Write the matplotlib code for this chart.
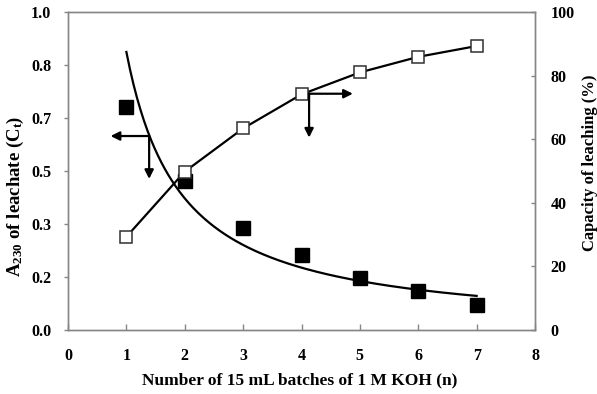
import numpy as np
import matplotlib
matplotlib.use("Agg")
import matplotlib.pyplot as plt

plt.rcParams["font.family"] = ["Liberation Serif", "DejaVu Serif"]
plt.rcParams["font.weight"] = "bold"
plt.rcParams["mathtext.fontset"] = "custom"
plt.rcParams["mathtext.rm"] = "Liberation Serif:bold"
plt.rcParams["mathtext.it"] = "Liberation Serif:bold"
plt.rcParams["mathtext.bf"] = "Liberation Serif:bold"
plt.rcParams["mathtext.default"] = "rm"

# Batch number
batches = [1, 2, 3, 4, 5, 6, 7]
# Absorbance at 230 nm of each leachate batch
absorbance = [0.701, 0.470, 0.320, 0.236, 0.163, 0.124, 0.079]
# Cumulative leaching capacity (%)
capacity = [29.3, 49.8, 63.4, 74.1, 81.0, 85.9, 89.3]

# Left axis ticks at sixths of the range, shown with one decimal
left_ticks = [0, 1 / 6, 2 / 6, 3 / 6, 4 / 6, 5 / 6, 1.0]
left_tick_labels = ["0.0", "0.2", "0.3", "0.5", "0.7", "0.8", "1.0"]
right_ticks = [0, 20, 40, 60, 80, 100]
x_ticks = [0, 1, 2, 3, 4, 5, 6, 7, 8]

W, H = 597, 394
fig = plt.figure(figsize=(W / 100, H / 100), dpi=100)
ax = fig.add_axes([68 / W, 1 - 330 / H, (535 - 68) / W, (330 - 12) / H])
ax2 = ax.twinx()

spine_color = "#868686"
for a in (ax, ax2):
    for s in a.spines.values():
        s.set_color(spine_color)
        s.set_linewidth(1.0)

# Power-law trendline fitted in log-log space
b, ln_a = np.polyfit(np.log(batches), np.log(absorbance), 1)
xs = np.linspace(min(batches), max(batches), 200)
ax.plot(xs, np.exp(ln_a) * xs ** b, color="black", lw=1.6, zorder=2)
ax.plot(batches, absorbance, ls="none", marker="s", ms=9.5,
        mfc="black", mec="black", zorder=3)

ax2.plot(batches, capacity, color="black", lw=1.6, marker="s", ms=8.5,
         mfc="white", mec="#303030", mew=1.1, zorder=3)

arrow_kw = dict(arrowstyle="-|>", lw=1.6, color="black",
                mutation_scale=13, shrinkA=0, shrinkB=0)
# Arrows pointing to the axis each series belongs to
ax.annotate("", xy=(0.73, 0.61), xytext=(1.39, 0.61), arrowprops=arrow_kw)
ax.annotate("", xy=(1.39, 0.475), xytext=(1.39, 0.61), arrowprops=arrow_kw)
ax2.annotate("", xy=(4.88, 74.3), xytext=(4.13, 74.3), arrowprops=arrow_kw)
ax2.annotate("", xy=(4.13, 60.5), xytext=(4.13, 74.3), arrowprops=arrow_kw)

ax.set_xlim(0, 8)
ax.set_ylim(0, 1)
ax2.set_ylim(0, 100)
ax.set_xticks(x_ticks)
ax.set_yticks(left_ticks)
ax.set_yticklabels(left_tick_labels)
ax2.set_yticks(right_ticks)

ax.tick_params(axis="y", direction="out", length=3, width=1,
               color=spine_color, pad=9, labelsize=11.5)
ax.tick_params(axis="x", direction="in", length=4, width=1,
               color=spine_color, pad=13, labelsize=11.5)
ax2.tick_params(axis="y", direction="in", length=3, width=1,
                color=spine_color, pad=11, labelsize=11.5)
for lab in ax.get_xticklabels() + ax.get_yticklabels() + ax2.get_yticklabels():
    lab.set_fontweight("bold")

fig.text(300 / W, 1 - 380 / H, "Number of 15 mL batches of 1 M KOH (n)",
         ha="center", va="center", fontsize=12.5, fontweight="bold")
fig.text(15 / W, 1 - 196 / H, r"A$_{230}$ of leachate (C$_{t}$)",
         ha="center", va="center", rotation=90, fontsize=13.5,
         fontweight="bold")
fig.text(590 / W, 1 - 163 / H, "Capacity of leaching (%)",
         ha="center", va="center", rotation=90, fontsize=12,
         fontweight="bold")

fig.savefig("out.png", dpi=100)
